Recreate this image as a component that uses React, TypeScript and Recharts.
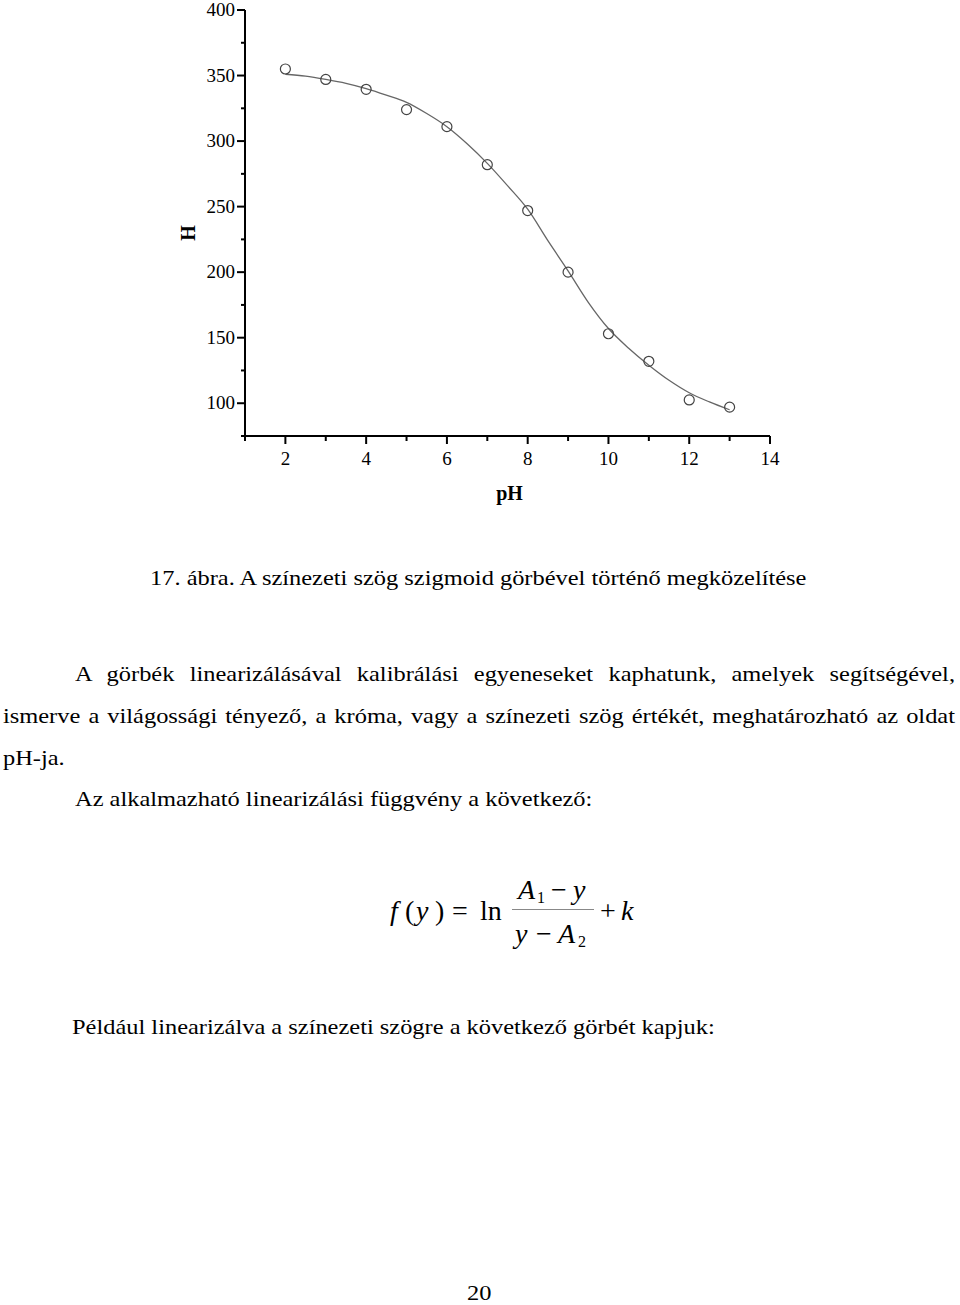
import React from "react";
import {
  ComposedChart,
  Line,
  Scatter,
  XAxis,
  YAxis,
  Label,
} from "recharts";

// measured points (pH, H)
const phValues = [2, 3, 4, 5, 6, 7, 8, 9, 10, 11, 12, 13];
const hValues = [355, 347, 339.5, 324, 311, 282, 247, 200, 153, 132, 102.5, 97];

// fitted sigmoid
const fitPh = [2, 2.5, 3, 3.5, 4, 4.5, 5, 5.5, 6, 6.5, 7, 7.5, 8, 8.5, 9, 9.5, 10, 10.5, 11, 11.5, 12, 12.5, 13];
const fitH = [351, 349.5, 347, 344, 340, 335, 329.5, 321, 311, 298, 283, 266, 248, 224, 201, 177, 157, 142, 129, 117.5, 108, 101, 95];

const xTicks = [1, 2, 3, 4, 5, 6, 7, 8, 9, 10, 11, 12, 13, 14];
const yTicks = [75, 100, 125, 150, 175, 200, 225, 250, 275, 300, 325, 350, 375, 400];

const points = phValues.map((x, i) => ({ x, y: hValues[i] }));
const fit = fitPh.map((x, i) => ({ x, y: fitH[i] }));

const SERIF = '"Liberation Serif", "Times New Roman", serif';

const XTick = (props: any) => {
  const { x, y, payload } = props;
  const major = payload.value % 2 === 0;
  return (
    <g>
      <line x1={x} y1={y} x2={x} y2={y + (major ? 8 : 5)} stroke="#000" strokeWidth={2} />
      {major && (
        <text x={x} y={y + 29} textAnchor="middle" fontFamily={SERIF} fontSize={19} fill="#000">
          {payload.value}
        </text>
      )}
    </g>
  );
};

const YTick = (props: any) => {
  const { x, y, payload } = props;
  const major = payload.value % 50 === 0;
  return (
    <g>
      <line x1={x} y1={y} x2={x - (major ? 8 : 4)} y2={y} stroke="#000" strokeWidth={2} />
      {major && (
        <text x={x - 10} y={y + 6} textAnchor="end" fontFamily={SERIF} fontSize={19} fill="#000">
          {payload.value}
        </text>
      )}
    </g>
  );
};

const Circle = (props: any) => {
  const { cx, cy } = props;
  return <circle cx={cx} cy={cy} r={5} fill="none" stroke="#444" strokeWidth={1.2} />;
};

const Chart = () => (
  <ComposedChart
    width={960}
    height={520}
    margin={{ top: 10, right: 190, left: 0, bottom: 0 }}
  >
    <XAxis
      type="number"
      dataKey="x"
      domain={[1, 14]}
      ticks={xTicks}
      interval={0}
      height={84}
      tickSize={0}
      tickMargin={0}
      tickLine={false}
      tick={<XTick />}
      axisLine={{ stroke: "#000", strokeWidth: 2 }}
      allowDataOverflow
    >
      <Label
        content={(p: any) => (
          <text
            x={p.viewBox.x + p.viewBox.width / 2 + 2}
            y={p.viewBox.y + 64}
            textAnchor="middle"
            fontFamily={SERIF}
            fontWeight="bold"
            fontSize={20}
            fill="#000"
          >
            pH
          </text>
        )}
      />
    </XAxis>
    <YAxis
      type="number"
      dataKey="y"
      domain={[75, 400]}
      ticks={yTicks}
      interval={0}
      width={245}
      tickSize={0}
      tickMargin={0}
      tickLine={false}
      tick={<YTick />}
      axisLine={{ stroke: "#000", strokeWidth: 2 }}
      allowDataOverflow
    >
      <Label
        content={(p: any) => {
          const cx = 195;
          const cy = p.viewBox.y + p.viewBox.height / 2 + 10;
          return (
            <text
              x={cx}
              y={cy}
              transform={`rotate(-90 ${cx} ${cy})`}
              textAnchor="middle"
              fontFamily={SERIF}
              fontWeight="bold"
              fontSize={20}
              fill="#000"
            >
              H
            </text>
          );
        }}
      />
    </YAxis>
    <Line
      data={fit}
      dataKey="y"
      type="monotone"
      stroke="#666"
      strokeWidth={1.3}
      dot={false}
      activeDot={false}
      isAnimationActive={false}
    />
    <Scatter data={points} dataKey="y" shape={<Circle />} isAnimationActive={false} />
  </ComposedChart>
);

// the scanned page is a bit wider than plain Times, so stretch horizontally
const FS = 22;
const SX = 1.11;

const TextLine = ({ left, base, width, justify, children }: any) => (
  <div
    style={{
      position: "absolute",
      fontFamily: SERIF,
      fontSize: FS,
      lineHeight: `${FS}px`,
      color: "#000",
      left,
      top: base - FS * 0.8375,
      width: width ? width / SX : undefined,
      textAlign: justify ? "justify" : "left",
      textAlignLast: justify ? "justify" : "auto",
      whiteSpace: justify ? "normal" : "nowrap",
      transform: `scaleX(${SX})`,
      transformOrigin: "0 0",
    }}
  >
    {children}
  </div>
);

const M = ({ x, base, italic, size, children }: any) => {
  const fs = size || 28;
  return (
    <span
      style={{
        position: "absolute",
        fontFamily: SERIF,
        color: "#000",
        whiteSpace: "nowrap",
        fontSize: fs,
        lineHeight: `${fs}px`,
        left: x,
        top: base - fs * 0.8375,
        fontStyle: italic ? "italic" : "normal",
      }}
    >
      {children}
    </span>
  );
};

export default function App() {
  return (
    <div
      style={{
        position: "absolute",
        left: 0,
        top: 0,
        width: 960,
        height: 1305,
        overflow: "hidden",
        background: "#fff",
      }}
    >
      <div style={{ position: "absolute", left: 0, top: 0 }}>
        <Chart />
      </div>

      <TextLine left={150} base={585}>
        17. ábra. A színezeti szög szigmoid görbével történő megközelítése
      </TextLine>
      <TextLine left={75} base={681} width={880} justify>
        A görbék linearizálásával kalibrálási egyeneseket kaphatunk, amelyek segítségével,
      </TextLine>
      <TextLine left={3} base={723} width={952} justify>
        ismerve a világossági tényező, a króma, vagy a színezeti szög értékét, meghatározható az oldat
      </TextLine>
      <TextLine left={3} base={765}>
        pH-ja.
      </TextLine>
      <TextLine left={75} base={806}>
        Az alkalmazható linearizálási függvény a következő:
      </TextLine>

      {/* formula */}
      <M x={390} base={920} italic>f</M>
      <M x={405} base={920}>(</M>
      <M x={416} base={920} italic>y</M>
      <M x={435} base={920}>)</M>
      <M x={452} base={920}>=</M>
      <M x={480} base={920}>ln</M>
      <M x={518} base={899} italic>A</M>
      <M x={537} base={903} size={16}>1</M>
      <M x={551} base={899}>−</M>
      <M x={573} base={899} italic>y</M>
      <div
        style={{
          position: "absolute",
          left: 512,
          top: 909,
          width: 82,
          height: 1,
          background: "#888",
        }}
      />
      <M x={515} base={943} italic>y</M>
      <M x={536} base={943}>−</M>
      <M x={558} base={943} italic>A</M>
      <M x={578} base={947} size={16}>2</M>
      <M x={600} base={920}>+</M>
      <M x={621} base={920} italic>k</M>

      <TextLine left={72} base={1034}>
        Például linearizálva a színezeti szögre a következő görbét kapjuk:
      </TextLine>
      <TextLine left={467} base={1300}>
        20
      </TextLine>
    </div>
  );
}
